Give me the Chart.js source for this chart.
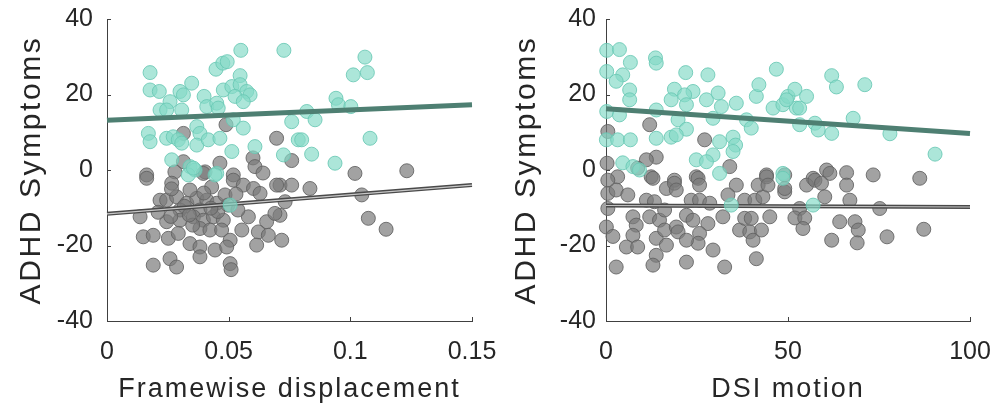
<!DOCTYPE html>
<html><head><meta charset="utf-8">
<script src="https://cdn.jsdelivr.net/npm/chart.js@4.4.0/dist/chart.umd.min.js"></script>
<style>
html,body{margin:0;padding:0;background:#fff;}
#wrap{position:relative;width:1000px;height:409px;overflow:hidden;}
.box{position:absolute;top:0;width:500px;height:409px;}
canvas{display:block;}
</style></head><body>
<div id="wrap">
<div class="box" style="left:0"><canvas id="c1" width="500" height="409"></canvas></div>
<div class="box" style="left:500px"><canvas id="c2" width="500" height="409"></canvas></div>
</div>
<script>
// ---------- data ----------
const yTicks = [-40, -20, 0, 20, 40];
const yTickLabels = ['-40', '-20', '0', '20', '40'];
const yTitle = 'ADHD Symptoms';

const fdTicks = [0, 0.05, 0.1, 0.15];
const fdTickLabels = ['0', '0.05', '0.1', '0.15'];
const fdTitle = 'Framewise displacement';

const dsiTicks = [0, 50, 100];
const dsiTickLabels = ['0', '50', '100'];
const dsiTitle = 'DSI motion';

// Framewise displacement panel: [fd, ADHD]
const fdTeal = [[0.0550,31.7],[0.0727,31.7],[0.0177,25.8],[0.0448,26.7],[0.0476,28.3],[0.0494,28.7],[0.0547,25.0],[0.0348,23.0],[0.0177,21.2],[0.0215,20.8],[0.0300,20.8],[0.0314,19.9],[0.0399,19.5],[0.0478,21.2],[0.0513,22.1],[0.0547,22.6],[0.0574,20.8],[0.0588,19.9],[0.0526,19.5],[0.0560,18.1],[0.0259,18.1],[0.0218,15.9],[0.0245,15.9],[0.0307,15.9],[0.0410,16.8],[0.0451,17.7],[0.0457,16.4],[0.0519,13.3],[0.0560,11.1],[0.0759,12.8],[0.0369,11.5],[0.0382,9.7],[0.0170,9.7],[0.0177,7.5],[0.0245,8.4],[0.0272,8.8],[0.0293,8.0],[0.0307,7.1],[0.0369,6.6],[0.0416,8.0],[0.0464,8.4],[0.0608,6.2],[0.0513,4.9],[0.0725,4.0],[0.0786,8.0],[0.0266,2.7],[0.0341,0.9],[0.0362,0.0],[0.0451,-0.9],[0.1060,29.9],[0.1012,25.2],[0.1070,25.8],[0.0941,19.0],[0.0951,17.3],[0.1002,16.8],[0.0821,15.5],[0.0855,13.3],[0.0800,8.0],[0.1081,8.4],[0.0841,4.2],[0.0937,1.8],[0.0334,-1.3],[0.0355,0.5],[0.0444,-1.3],[0.0506,-9.3]];
const fdGray = [[0.0314,9.7],[0.0489,12.0],[0.0697,8.4],[0.0600,3.2],[0.0608,0.9],[0.0641,-0.8],[0.0759,2.5],[0.0464,1.8],[0.0314,2.2],[0.0163,-1.3],[0.0279,-0.5],[0.0403,-0.5],[0.0519,-1.3],[0.0711,-4.0],[0.1019,-0.9],[0.1232,-0.2],[0.0759,-4.0],[0.0834,-4.9],[0.1047,-6.6],[0.0732,-8.4],[0.0711,-12.0],[0.1074,-12.8],[0.1147,-15.7],[0.0718,-18.6],[0.0163,-2.2],[0.0266,-3.5],[0.0396,-0.9],[0.0519,-2.7],[0.0560,-4.0],[0.0602,-4.9],[0.0629,-6.2],[0.0697,-4.0],[0.0218,-8.0],[0.0245,-8.0],[0.0286,-7.1],[0.0328,-8.8],[0.0369,-7.5],[0.0410,-8.0],[0.0451,-8.8],[0.0341,-5.3],[0.0382,-10.6],[0.0300,-10.6],[0.0485,-6.6],[0.0136,-12.4],[0.0245,-13.7],[0.0300,-13.3],[0.0355,-12.4],[0.0396,-13.3],[0.0437,-12.4],[0.0478,-13.3],[0.0581,-12.4],[0.0656,-13.7],[0.0690,-11.5],[0.0149,-17.7],[0.0190,-17.3],[0.0252,-18.1],[0.0293,-16.8],[0.0341,-19.5],[0.0382,-15.5],[0.0423,-15.9],[0.0471,-15.9],[0.0506,-18.6],[0.0554,-15.9],[0.0622,-16.4],[0.0663,-17.3],[0.0615,-19.9],[0.0382,-20.4],[0.0382,-23.0],[0.0444,-21.2],[0.0492,-20.4],[0.0259,-23.5],[0.0286,-25.7],[0.0190,-25.2],[0.0506,-24.8],[0.0510,-26.4],[0.0210,-11.2],[0.0497,-9.3],[0.0538,-10.6],[0.0265,-5.0],[0.0430,-4.5],[0.0318,-9.6],[0.0352,-14.6],[0.0455,-11.0],[0.0262,-12.3],[0.0398,-6.1],[0.0427,-10.1],[0.0338,-11.9],[0.0530,-6.4]];
const fdTealFit = [[0, 13.2], [0.15, 17.3]];
const fdGrayFit = [[0, -11.6], [0.15, -4.0]];

// DSI motion panel: [dsi, ADHD]
const dsiTeal = [[0.2,31.7],[3.7,31.9],[6.7,28.5],[13.6,29.7],[13.8,28.3],[0.2,26.1],[4.6,25.2],[2.8,23.5],[6.5,21.2],[6.5,18.6],[21.9,25.8],[28.0,25.2],[46.8,26.7],[18.8,21.4],[23.9,20.8],[17.9,18.6],[21.6,19.9],[22.1,17.3],[27.6,18.6],[30.8,20.4],[31.7,16.8],[35.8,17.7],[41.3,19.5],[42.0,22.6],[45.9,16.4],[48.6,17.3],[50.0,19.5],[51.9,21.4],[52.3,16.4],[0.2,15.5],[3.7,14.6],[13.8,15.9],[19.8,13.3],[22.1,10.8],[29.4,13.7],[38.6,13.3],[39.9,11.1],[0.1,8.0],[3.2,8.0],[6.7,8.0],[13.8,8.4],[17.9,8.7],[19.3,9.3],[31.2,7.5],[34.9,8.7],[35.6,6.6],[34.9,4.9],[29.4,4.0],[24.8,2.7],[27.6,2.2],[4.6,1.9],[7.4,0.9],[31.2,-0.9],[48.6,-0.9],[62.0,25.0],[63.3,22.0],[71.1,22.6],[55.1,19.5],[49.6,18.6],[53.2,16.4],[67.9,13.7],[53.2,12.0],[57.4,12.4],[58.3,10.6],[62.0,9.7],[78.0,9.6],[90.4,4.2],[48.6,-2.2],[9.2,0.0],[34.4,-9.3],[56.9,-9.3]];
const dsiGray = [[12.0,12.0],[0.5,10.2],[27.1,8.0],[13.8,3.4],[11.1,2.7],[8.7,0.5],[0.3,1.8],[34.0,0.9],[44.1,-1.3],[3.2,-1.8],[12.4,-1.8],[18.8,-2.7],[24.8,-1.8],[49.1,-1.3],[56.9,-2.2],[60.6,0.0],[61.5,-0.9],[66.1,-0.7],[73.4,-1.3],[86.2,-2.2],[49.1,-5.8],[55.1,-4.0],[57.4,-2.7],[59.2,-3.5],[66.1,-4.0],[60.1,-7.1],[53.2,-10.2],[51.9,-12.7],[54.6,-12.7],[54.1,-15.5],[67.0,-8.0],[75.2,-10.2],[64.2,-13.7],[68.4,-13.7],[69.3,-15.9],[62.0,-18.6],[69.0,-19.3],[77.2,-17.7],[87.3,-15.7],[12.9,-2.2],[0.5,-2.7],[0.5,-6.2],[2.8,-5.3],[6.0,-6.6],[16.6,-4.9],[18.8,-3.5],[19.3,-5.3],[11.1,-8.0],[13.3,-8.4],[25.3,-2.2],[25.7,-4.0],[35.8,-4.0],[33.5,-6.6],[23.4,-8.0],[25.7,-8.0],[28.5,-8.8],[38.1,-8.0],[40.9,-8.0],[43.1,-7.1],[41.8,-4.0],[44.1,-1.8],[44.5,-4.0],[49.1,-4.9],[0.5,-10.2],[0.1,-15.1],[1.9,-17.6],[7.4,-12.4],[8.3,-14.6],[7.4,-17.3],[12.0,-12.4],[14.7,-13.3],[16.1,-10.6],[13.8,-18.1],[16.6,-19.9],[16.1,-15.9],[19.3,-15.1],[19.8,-16.4],[22.1,-12.0],[23.9,-13.3],[28.0,-14.2],[25.7,-16.8],[25.3,-19.4],[22.1,-18.6],[32.1,-12.4],[36.7,-15.9],[39.5,-16.4],[40.4,-18.6],[42.7,-15.9],[38.1,-12.8],[39.9,-12.8],[45.0,-12.4],[5.6,-20.4],[8.7,-20.4],[29.4,-21.2],[13.8,-22.6],[12.9,-25.2],[22.1,-24.4],[2.8,-25.7],[32.6,-25.7],[41.3,-23.5]];
const dsiTealFit = [[0, 16.2], [100, 9.7]];
const dsiGrayFit = [[0, -9.4], [100, -9.8]];

// ---------- styling ----------
const FONT = "'Liberation Sans', Arial, Helvetica, sans-serif";
const TXT = '#262626';
const AXIS = '#404040';
const TEAL_FILL = 'rgba(132,218,199,0.68)';
const TEAL_EDGE = 'rgba(104,200,180,0.85)';
const GRAY_FILL = 'rgba(122,122,122,0.70)';
const GRAY_EDGE = 'rgba(96,96,96,0.85)';
const TEAL_LINE = '#4e7f72';

const toXY = arr => arr.map(p => ({x: p[0], y: p[1]}));

const inTicks = {
  id: 'inTicks',
  afterDatasetsDraw(chart) {
    const {ctx, chartArea: a, scales: {x, y}} = chart;
    ctx.save();
    ctx.strokeStyle = AXIS;
    ctx.lineWidth = 1;
    x.ticks.forEach(t => {
      const px = Math.round(x.getPixelForValue(t.value)) + 0.5;
      ctx.beginPath(); ctx.moveTo(px, a.bottom); ctx.lineTo(px, a.bottom - 4); ctx.stroke();
    });
    y.ticks.forEach(t => {
      const py = Math.round(y.getPixelForValue(t.value)) + 0.5;
      ctx.beginPath(); ctx.moveTo(a.left, py); ctx.lineTo(a.left + 4, py); ctx.stroke();
    });
    ctx.restore();
  }
};

// widen axis titles a little with canvas letter spacing
const titleSpacing = {
  id: 'titleSpacing',
  beforeDraw(chart, args, opts) {
    ['x', 'y'].forEach(k => {
      const s = chart.scales[k];
      if (!s || s._spaced) return;
      const orig = s.drawTitle;
      const sp = opts[k] || '0px';
      s.drawTitle = function () {
        const c = this.ctx;
        c.letterSpacing = sp;
        orig.call(this);
        c.letterSpacing = '0px';
      };
      s._spaced = true;
    });
  }
};

function makeChart(id, cfg) {
  const pointsDs = (data, fill, edge, order) => ({
    type: 'scatter', data: toXY(data), backgroundColor: fill, borderColor: edge,
    borderWidth: 1, pointRadius: 7, pointHoverRadius: 7, order, clip: false
  });
  const lineDs = (data, color, width, order) => ({
    type: 'line', data: toXY(data), borderColor: color, borderWidth: width,
    pointRadius: 0, fill: false, order, clip: false, tension: 0
  });
  return new Chart(document.getElementById(id), {
    type: 'scatter',
    data: {
      datasets: [
        lineDs(cfg.tealFit, TEAL_LINE, 5, 0),
        pointsDs(cfg.teal, TEAL_FILL, TEAL_EDGE, 1),
        lineDs(cfg.grayFit, 'rgba(205,205,205,0.95)', 1.2, 2),
        lineDs(cfg.grayFit, '#4a4a4a', 4, 3),
        pointsDs(cfg.gray, GRAY_FILL, GRAY_EDGE, 4)
      ]
    },
    options: {
      responsive: false,
      animation: false,
      devicePixelRatio: 1,
      layout: {padding: {left: 0, top: 19, right: cfg.padRight, bottom: 0}},
      plugins: {legend: {display: false}, tooltip: {enabled: false},
                titleSpacing: {x: '2px', y: '2.6px'}},
      scales: {
        x: {
          type: 'linear', min: cfg.xTicks[0], max: cfg.xTicks[cfg.xTicks.length - 1],
          afterBuildTicks: s => { s.ticks = cfg.xTicks.map(v => ({value: v})); },
          afterFit: s => { s.height = 88; s.paddingLeft = 0; s.paddingRight = 0; },
          grid: {display: false, drawTicks: false},
          border: {display: true, color: AXIS, width: 1},
          ticks: {
            font: {family: FONT, size: 25}, color: TXT, padding: 16, maxRotation: 0, z: 1,
            callback: (v, i) => cfg.xTickLabels[i]
          },
          title: {display: true, text: cfg.xTitle, font: {family: FONT, size: 27}, color: TXT,
                  padding: {top: 0, bottom: 3}}
        },
        y: {
          type: 'linear', min: -40, max: 40,
          afterBuildTicks: s => { s.ticks = yTicks.map(v => ({value: v})); },
          afterFit: s => { s.width = cfg.yWidth; s.paddingTop = 0; s.paddingBottom = 0; },
          grid: {display: false, drawTicks: false},
          border: {display: true, color: AXIS, width: 1},
          ticks: {
            font: {family: FONT, size: 25}, color: TXT, padding: cfg.yPad, z: 1,
            callback: (v, i) => yTickLabels[i]
          },
          title: {display: true, text: yTitle, font: {family: FONT, size: 30}, color: TXT,
                  padding: {top: cfg.yTitlePad, bottom: 0}}
        }
      }
    },
    plugins: [titleSpacing, inTicks]
  });
}

makeChart('c1', {teal: fdTeal, gray: fdGray, tealFit: fdTealFit, grayFit: fdGrayFit,
  xTicks: fdTicks, xTickLabels: fdTickLabels, xTitle: fdTitle,
  padRight: 28, yWidth: 107, yPad: 14, yTitlePad: 14});
makeChart('c2', {teal: dsiTeal, gray: dsiGray, tealFit: dsiTealFit, grayFit: dsiGrayFit,
  xTicks: dsiTicks, xTickLabels: dsiTickLabels, xTitle: dsiTitle,
  padRight: 30, yWidth: 106, yPad: 10, yTitlePad: 9});
</script>
</body></html>
